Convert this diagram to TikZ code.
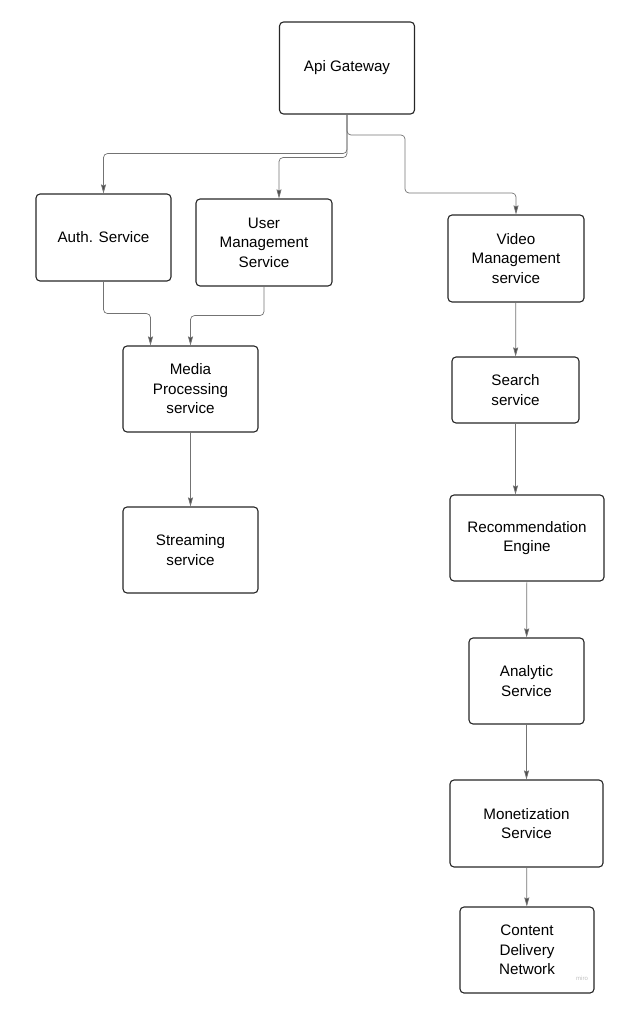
\documentclass[tikz,border=0pt]{standalone}
\usepackage{fontspec}
\setmainfont{Liberation Sans}
\usetikzlibrary{arrows.meta}
\tikzset{
    svc/.style={draw=black!85, line width=1.1pt, rounded corners=4pt, align=center,
        font=\fontsize{15.2}{19.5}\selectfont, inner sep=0pt},
    flow/.style={-{Stealth[length=9pt,width=5pt,inset=1pt,fill=black!70]}, draw=black!55, line width=0.7pt, rounded corners=4pt},
}
\begin{document}
\begin{tikzpicture}[x=1pt, y=-1pt]
    \useasboundingbox (0,0) rectangle (622,1014);

    \node[svc, minimum width=135pt, minimum height=92pt] (gw) at (347,68) {Api Gateway};
    \node[svc, minimum width=135pt, minimum height=87pt] (auth) at (103.5,237.5) {Auth. Service};
    \node[svc, minimum width=136pt, minimum height=87pt] (user) at (264,242.5) {User\\Management\\Service};
    \node[svc, minimum width=136pt, minimum height=87pt] (video) at (516,258.5) {Video\\Management\\service};
    \node[svc, minimum width=135pt, minimum height=86pt] (media) at (190.5,389) {Media\\Processing\\service};
    \node[svc, minimum width=135pt, minimum height=86pt] (stream) at (190.5,550) {Streaming\\service};
    \node[svc, minimum width=127pt, minimum height=66pt] (search) at (515.5,390) {Search\\service};
    \node[svc, minimum width=154pt, minimum height=86pt] (rec) at (527,538) {Recommendation\\Engine};
    \node[svc, minimum width=115pt, minimum height=86pt] (analytic) at (526.5,681) {Analytic\\Service};
    \node[svc, minimum width=153pt, minimum height=87pt] (monet) at (526.5,823.5) {Monetization\\Service};
    \node[svc, minimum width=134pt, minimum height=86pt] (cdn) at (527,950) {Content\\Delivery\\Network};
    \node[text=black!25, font=\fontsize{6}{6}\selectfont] (wm) at (582,978) {miro};

    % gateway fan-out
    \draw[flow] (gw.south) -- ++(0,39) -| (auth.north);
    \draw[flow] (gw.south) -- ++(0,43) -| ([xshift=15pt]user.north);
    \draw[flow] (gw.south) |- (405,135) |- (video.north |- 0,193) -- (video.north);

    \draw[flow] (auth.south) -- ++(0,32) -| ([xshift=-40pt]media.north);
    \draw[flow] (user.south) -- ++(0,29) -| (media.north);
    \draw[flow] (media) -- (stream);

    \draw[flow] (video) -- (search);
    \draw[flow] (search.south) -- (search.south |- rec.north);
    \draw[flow] (rec) -- (analytic);
    \draw[flow] (analytic) -- (monet);
    \draw[flow] (monet) -- (cdn);
\end{tikzpicture}
\end{document}
